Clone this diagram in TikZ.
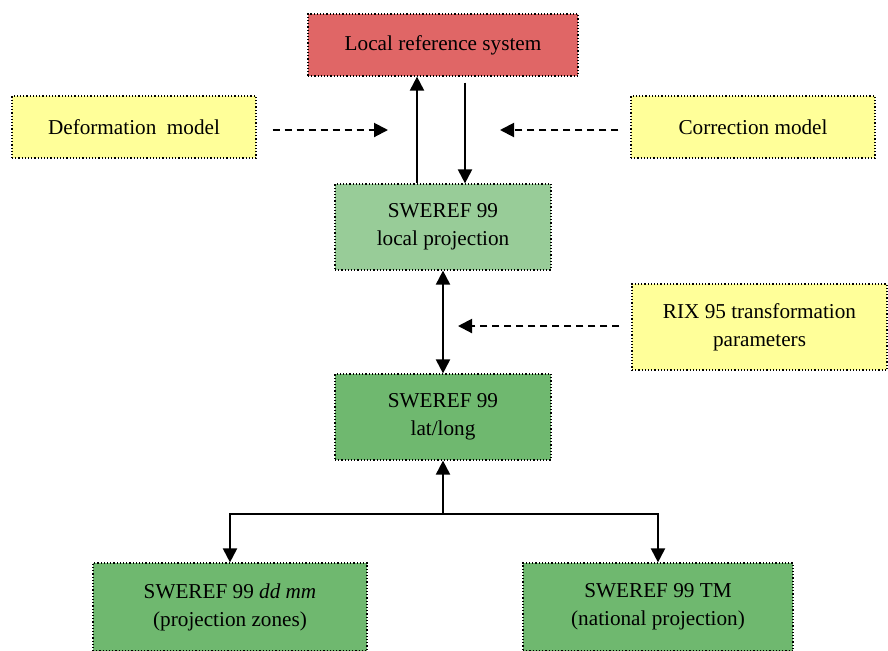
\documentclass[tikz,border=0pt]{standalone}
\usepackage{fontspec}
\setmainfont{Liberation Serif}
\newfontfamily\boxfont{Liberation Serif}
\usetikzlibrary{arrows.meta,calc}

\definecolor{locred}{RGB}{224,102,102}
\definecolor{modyellow}{RGB}{255,255,153}
\definecolor{projgreen}{RGB}{152,204,152}
\definecolor{swgreen}{RGB}{111,184,111}

\begin{document}
\begin{tikzpicture}[x=0.5pt,y=-0.5pt,
			box/.style={rectangle, draw, densely dotted, line width=0.6pt, align=center, inner sep=0pt,
				font=\boxfont\fontsize{10.6}{14}\selectfont},
			t2/.style={line width=1pt,-{Triangle[length=7pt,width=7pt]}},
			t3/.style={line width=1pt,dash pattern=on 3.5pt off 2.5pt,-{Triangle[length=7pt,width=7pt]}},
			t4/.style={line width=1pt,{Triangle[length=7pt,width=7pt]}-{Triangle[length=7pt,width=7pt]}}]

			\useasboundingbox (0,0) rectangle (888,650);

			% drawing systems
			\node[box, fill=locred, minimum width=135pt, minimum height=31pt] (loc) at (443,45) {Local reference system};
			\node[box, fill=projgreen, minimum width=108pt, minimum height=43pt] (lproj) at (443,227) {SWEREF 99\\local projection};
			\node[box, fill=swgreen, minimum width=108pt, minimum height=43pt] (latlong) at (443,417) {SWEREF 99\\lat/long};
			\node[box, fill=swgreen, minimum width=137pt, minimum height=44pt] (zones) at (230,607) {SWEREF 99 \textit{dd mm}\\(projection zones)};
			\node[box, fill=swgreen, minimum width=135pt, minimum height=44pt] (tm) at (658,607) {SWEREF 99 TM\\(national projection)};

			% drawing models
			\node[box, fill=modyellow, minimum width=122pt, minimum height=31pt] (def) at (134,127) {Deformation\ \ model};
			\node[box, fill=modyellow, minimum width=122pt, minimum height=31pt] (cor) at (753,127) {Correction model};
			\node[box, fill=modyellow, minimum width=127.5pt, minimum height=43pt] (rix) at (759.5,327) {RIX 95 transformation\\parameters};

			% drawing arrows
			\draw[t2] ($(lproj.north)+(-26,0)$) -- ($(loc.south)+(-26,0)$);
			\draw[t2] ($(loc.south)+(22,6)$) -- ($(lproj.north)+(22,0)$);
			\draw[t4] (lproj.south) -- (latlong.north);

			\coordinate (dtip) at (388,130);
			\coordinate (ctip) at (500,130);
			\coordinate (rtip) at (458,326);
			\draw[t3] ($(def.east)+(16,3)$) -- (dtip);
			\draw[t3] ($(cor.west)+(-12,3)$) -- (ctip);
			\draw[t3] ($(rix.west)+(-12,-1)$) -- (rtip);

			\coordinate (fork) at (443,514);
			\draw[t2] (fork) -- (latlong.south);
			\draw[t2] (fork) -| (zones.north);
			\draw[t2] (fork) -| (tm.north);

		\end{tikzpicture}
\end{document}
